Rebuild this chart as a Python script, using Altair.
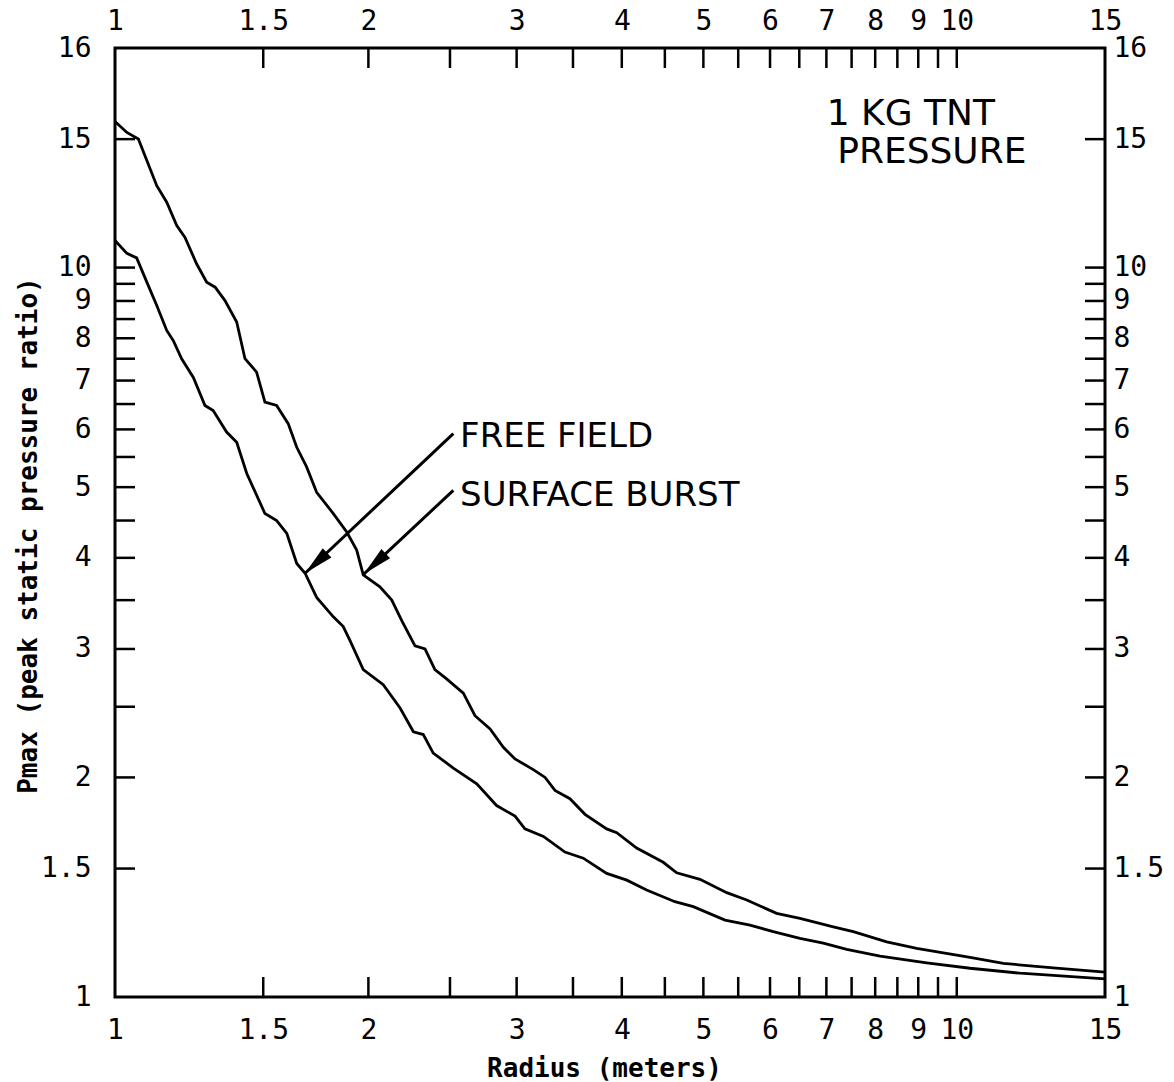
import altair as alt
import pandas as pd

# ---- data (radius in m, peak pressure ratio) ----
radius_surface = [1.0, 1.033, 1.066, 1.091, 1.121, 1.152, 1.184, 1.211, 1.250, 1.285,
                  1.315, 1.351, 1.395, 1.427, 1.473, 1.507, 1.556, 1.606, 1.644, 1.689,
                  1.736, 1.817, 1.885, 1.937, 1.972, 2.064, 2.132, 2.191, 2.272, 2.335,
                  2.399, 2.477, 2.593, 2.677, 2.790, 2.893, 2.987, 3.140, 3.243, 3.332,
                  3.471, 3.617, 3.838, 3.945, 4.166, 4.480, 4.648, 4.954, 5.330, 5.630,
                  6.109, 6.512, 7.134, 7.535, 8.256, 8.962, 10.37, 11.36, 13.02, 15.0]
pressure_surface = [15.86, 15.32, 15.01, 14.02, 12.95, 12.29, 11.42, 11.00, 10.12, 9.55,
                    9.40, 9.01, 8.42, 7.50, 7.19, 6.54, 6.47, 6.11, 5.67, 5.33,
                    4.92, 4.60, 4.34, 4.10, 3.79, 3.65, 3.50, 3.28, 3.03, 3.00,
                    2.81, 2.73, 2.61, 2.43, 2.33, 2.20, 2.12, 2.05, 2.00, 1.92,
                    1.87, 1.78, 1.70, 1.68, 1.60, 1.53, 1.48, 1.45, 1.39, 1.358,
                    1.302, 1.282, 1.248, 1.229, 1.190, 1.166, 1.133, 1.112, 1.096, 1.082]

radius_free = [1.0, 1.033, 1.061, 1.091, 1.121, 1.152, 1.173, 1.200, 1.239, 1.279,
               1.308, 1.357, 1.395, 1.434, 1.507, 1.556, 1.600, 1.644, 1.682, 1.736,
               1.817, 1.867, 1.902, 1.972, 2.083, 2.181, 2.262, 2.324, 2.388, 2.523,
               2.690, 2.840, 2.987, 3.069, 3.228, 3.424, 3.600, 3.838, 4.055, 4.281,
               4.626, 4.864, 5.305, 5.680, 6.053, 6.512, 6.941, 7.401, 8.107, 9.21,
               10.37, 11.89, 15.0]
pressure_free = [10.89, 10.46, 10.31, 9.55, 8.87, 8.20, 7.94, 7.50, 7.07, 6.47,
                 6.37, 5.95, 5.76, 5.22, 4.60, 4.50, 4.32, 3.93, 3.81, 3.53,
                 3.32, 3.22, 3.08, 2.81, 2.68, 2.49, 2.31, 2.29, 2.16, 2.06,
                 1.96, 1.83, 1.77, 1.70, 1.66, 1.58, 1.55, 1.477, 1.446, 1.402,
                 1.351, 1.330, 1.275, 1.255, 1.229, 1.203, 1.185, 1.162, 1.138, 1.114,
                 1.095, 1.078, 1.059]

x_label_values = [1, 1.5, 2, 3, 4, 5, 6, 7, 8, 9, 10, 15]
y_label_values = [1, 1.5, 2, 3, 4, 5, 6, 7, 8, 9, 10, 15, 20]
x_tick_values = [1.5, 2, 2.5, 3, 3.5, 4, 4.5, 5, 5.5, 6, 6.5, 7, 7.5, 8, 8.5, 9, 9.5, 10]
y_tick_values = [1.5, 2, 2.5, 3, 3.5, 4, 4.5, 5, 5.5, 6, 6.5, 7, 7.5, 8, 8.5, 9, 9.5, 10, 15]

arrow_text = ["FREE FIELD", "SURFACE BURST"]
arrow_text_x = [2.57, 2.57]
arrow_text_y = [5.85, 4.86]
arrow_start_x = [2.523, 2.523]
arrow_start_y = [5.92, 4.95]
arrow_tip_x = [1.682, 1.975]
arrow_tip_y = [3.81, 3.80]

note_text = ["1 KG TNT", "PRESSURE"]
note_x = [8.82, 9.34]
note_y = [16.25, 14.42]

# ---- chart ----
W, H = 990, 949
TICK = 20
MONO = "DejaVu Sans Mono"
SANS = "DejaVu Sans"
LABEL_EXPR = "datum.value == 20 ? '16' : datum.label"

xs = alt.Scale(type="log", domain=[1, 15], nice=False)
ys = alt.Scale(type="log", domain=[1, 20], nice=False)

curves = pd.DataFrame({
    "radius": radius_surface + radius_free,
    "pressure": pressure_surface + pressure_free,
    "series": ["Surface burst"] * len(radius_surface) + ["Free field"] * len(radius_free),
})

lines = alt.Chart(curves).mark_line(color="black", strokeWidth=2.8).encode(
    x=alt.X("radius:Q", scale=xs,
            axis=alt.Axis(orient="bottom", values=x_label_values, format="~g",
                          labelPadding=19, title="Radius (meters)",
                          titleX=489, titleY=71, titleBaseline="middle", titleAlign="center")),
    y=alt.Y("pressure:Q", scale=ys,
            axis=alt.Axis(orient="left", values=y_label_values, format="~g",
                          labelExpr=LABEL_EXPR, labelPadding=24,
                          title="Pmax (peak static pressure ratio)",
                          titleX=-87, titleY=487, titleBaseline="middle", titleAlign="center")),
    detail="series:N",
)

xt = pd.DataFrame({"v": x_tick_values})
yt = pd.DataFrame({"v": y_tick_values})

bottom_ticks = alt.Chart(xt).mark_rule(color="black", strokeWidth=2.5).encode(
    x=alt.X("v:Q", scale=xs,
            axis=alt.Axis(orient="top", values=x_label_values, format="~g",
                          labelPadding=13, title=None)),
    y=alt.value(H), y2=alt.value(H - TICK),
)
top_ticks = alt.Chart(xt).mark_rule(color="black", strokeWidth=2.5).encode(
    x=alt.X("v:Q", scale=xs, axis=None),
    y=alt.value(0), y2=alt.value(TICK),
)
left_ticks = alt.Chart(yt).mark_rule(color="black", strokeWidth=2.5).encode(
    y=alt.Y("v:Q", scale=ys,
            axis=alt.Axis(orient="right", values=y_label_values, format="~g",
                          labelExpr=LABEL_EXPR, labelPadding=8, title=None)),
    x=alt.value(0), x2=alt.value(TICK),
)
right_ticks = alt.Chart(yt).mark_rule(color="black", strokeWidth=2.5).encode(
    y=alt.Y("v:Q", scale=ys, axis=None),
    x=alt.value(W), x2=alt.value(W - TICK),
)

arrows = pd.DataFrame({
    "label": arrow_text, "tx": arrow_text_x, "ty": arrow_text_y,
    "x1": arrow_start_x, "y1": arrow_start_y, "x2": arrow_tip_x, "y2": arrow_tip_y,
})

arrow_lines = alt.Chart(arrows).mark_rule(color="black", strokeWidth=3).encode(
    x=alt.X("x1:Q", scale=xs, axis=None), y=alt.Y("y1:Q", scale=ys, axis=None),
    x2="x2:Q", y2="y2:Q",
)
arrow_heads = alt.Chart(arrows).mark_point(
    shape="M0,0 L-0.4,1.9 L0.4,1.9 Z", filled=True, color="black",
    size=1000, angle=227, opacity=1,
).encode(
    x=alt.X("x2:Q", scale=xs, axis=None), y=alt.Y("y2:Q", scale=ys, axis=None),
)
arrow_labels = alt.Chart(arrows).mark_text(
    font=SANS, fontSize=34, align="left", baseline="middle", color="black",
).encode(
    x=alt.X("tx:Q", scale=xs, axis=None), y=alt.Y("ty:Q", scale=ys, axis=None),
    text="label:N",
)

notes = pd.DataFrame({"text": note_text, "x": note_x, "y": note_y})
note_marks = alt.Chart(notes).mark_text(
    font=SANS, fontSize=36, align="center", baseline="middle", color="black",
).encode(
    x=alt.X("x:Q", scale=xs, axis=None), y=alt.Y("y:Q", scale=ys, axis=None),
    text="text:N",
)

chart = alt.layer(
    lines, bottom_ticks, top_ticks, left_ticks, right_ticks,
    arrow_lines, arrow_heads, arrow_labels, note_marks,
).resolve_axis(
    x="independent", y="independent"
).properties(
    width=W, height=H,
    autosize=alt.AutoSizeParams(type="none"),
    padding={"left": 115, "top": 48, "right": 69, "bottom": 85},
    background="white",
).configure_view(
    stroke="black", strokeWidth=3,
).configure_axis(
    labelFont=MONO, labelFontSize=28, labelColor="black",
    titleFont=MONO, titleFontSize=26, titleFontWeight="bold", titleColor="black",
    domain=False, ticks=False, grid=False,
    labelFlush=False, labelOverlap=False,
)

chart.save("out.html", embed_options={"renderer": "svg", "actions": False})
